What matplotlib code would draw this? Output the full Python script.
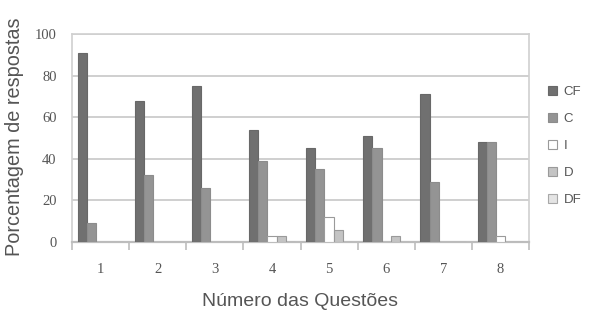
import numpy as np
import matplotlib.pyplot as plt

# =========================
# DATA
# =========================
questions = ['1', '2', '3', '4', '5', '6', '7', '8']
series_names = ['CF', 'C', 'I', 'D', 'DF']
cf = [91, 68, 75, 54, 45, 51, 71, 48]
c = [9, 32, 26, 39, 35, 45, 29, 48]
i_vals = [0, 0, 0, 3, 12, 0, 0, 3]
d = [0, 0, 0, 3, 6, 3, 0, 0]
df = [0, 0, 0, 0, 0, 0, 0, 0]
yticks = [0, 20, 40, 60, 80, 100]

# =========================
# STYLE
# =========================
face = ['#707070', '#949494', '#ffffff', '#c4c4c4', '#e4e4e4']
edge = ['#686868', '#8c8c8c', '#9a9a9a', '#9a9a9a', '#a8a8a8']
serif = ['Liberation Serif', 'DejaVu Serif']
sans = ['Liberation Sans', 'DejaVu Sans']
txt = '#555555'

fig = plt.figure(figsize=(5.97, 3.10), dpi=100)
ax = fig.add_axes([72/597, 68/310, 457/597, 208/310])

x = np.arange(len(questions))
w = 0.16
for k, vals in enumerate([cf, c, i_vals, d, df]):
    ax.bar(x + (k - 2)*w, vals, width=w, color=face[k], edgecolor=edge[k],
           linewidth=0.8, label=series_names[k], zorder=3)

ax.set_xlim(-0.5, len(questions) - 0.5)
ax.set_ylim(0, 100)

# grid + frame
ax.set_yticks(yticks)
ax.yaxis.grid(True, color='#cfcfcf', linewidth=1.4, zorder=0)
for s in ['left', 'top', 'right']:
    ax.spines[s].set_color('#d0d0d0')
    ax.spines[s].set_linewidth(1.2)
ax.spines['bottom'].set_color('#bdbdbd')
ax.spines['bottom'].set_linewidth(1.6)

# ticks
ax.set_xticks(x)
ax.set_xticklabels(questions, fontfamily=serif, fontsize=10.5, color=txt)
ax.set_xticks(np.arange(len(questions) + 1) - 0.5, minor=True)
ax.tick_params(axis='x', which='major', length=0, pad=15)
ax.tick_params(axis='x', which='minor', length=6, width=1.2, color='#bdbdbd')
ax.tick_params(axis='y', length=0, pad=11)
for t in ax.get_yticklabels():
    t.set_fontfamily(serif)
    t.set_fontsize(10.5)
    t.set_color(txt)

# axis titles placed in figure pixels
fig.text(300/597, 4/310, 'Número das Questões', fontfamily=sans,
         fontsize=14, color=txt, ha='center', va='baseline')
fig.text(15/597, 1 - 136.5/310, 'Porcentagem de respostas', fontfamily=sans,
         fontsize=14.3, color=txt, ha='center', va='center', rotation=90)

leg = ax.legend(loc='upper left', bbox_to_anchor=(1.03, 0.777), frameon=False,
                prop={'family': sans, 'size': 9.5}, labelcolor=txt,
                handlelength=0.7, handleheight=0.7, handletextpad=0.5,
                labelspacing=1.12, borderaxespad=0)

fig.savefig('out.png', dpi=100, facecolor='white')
